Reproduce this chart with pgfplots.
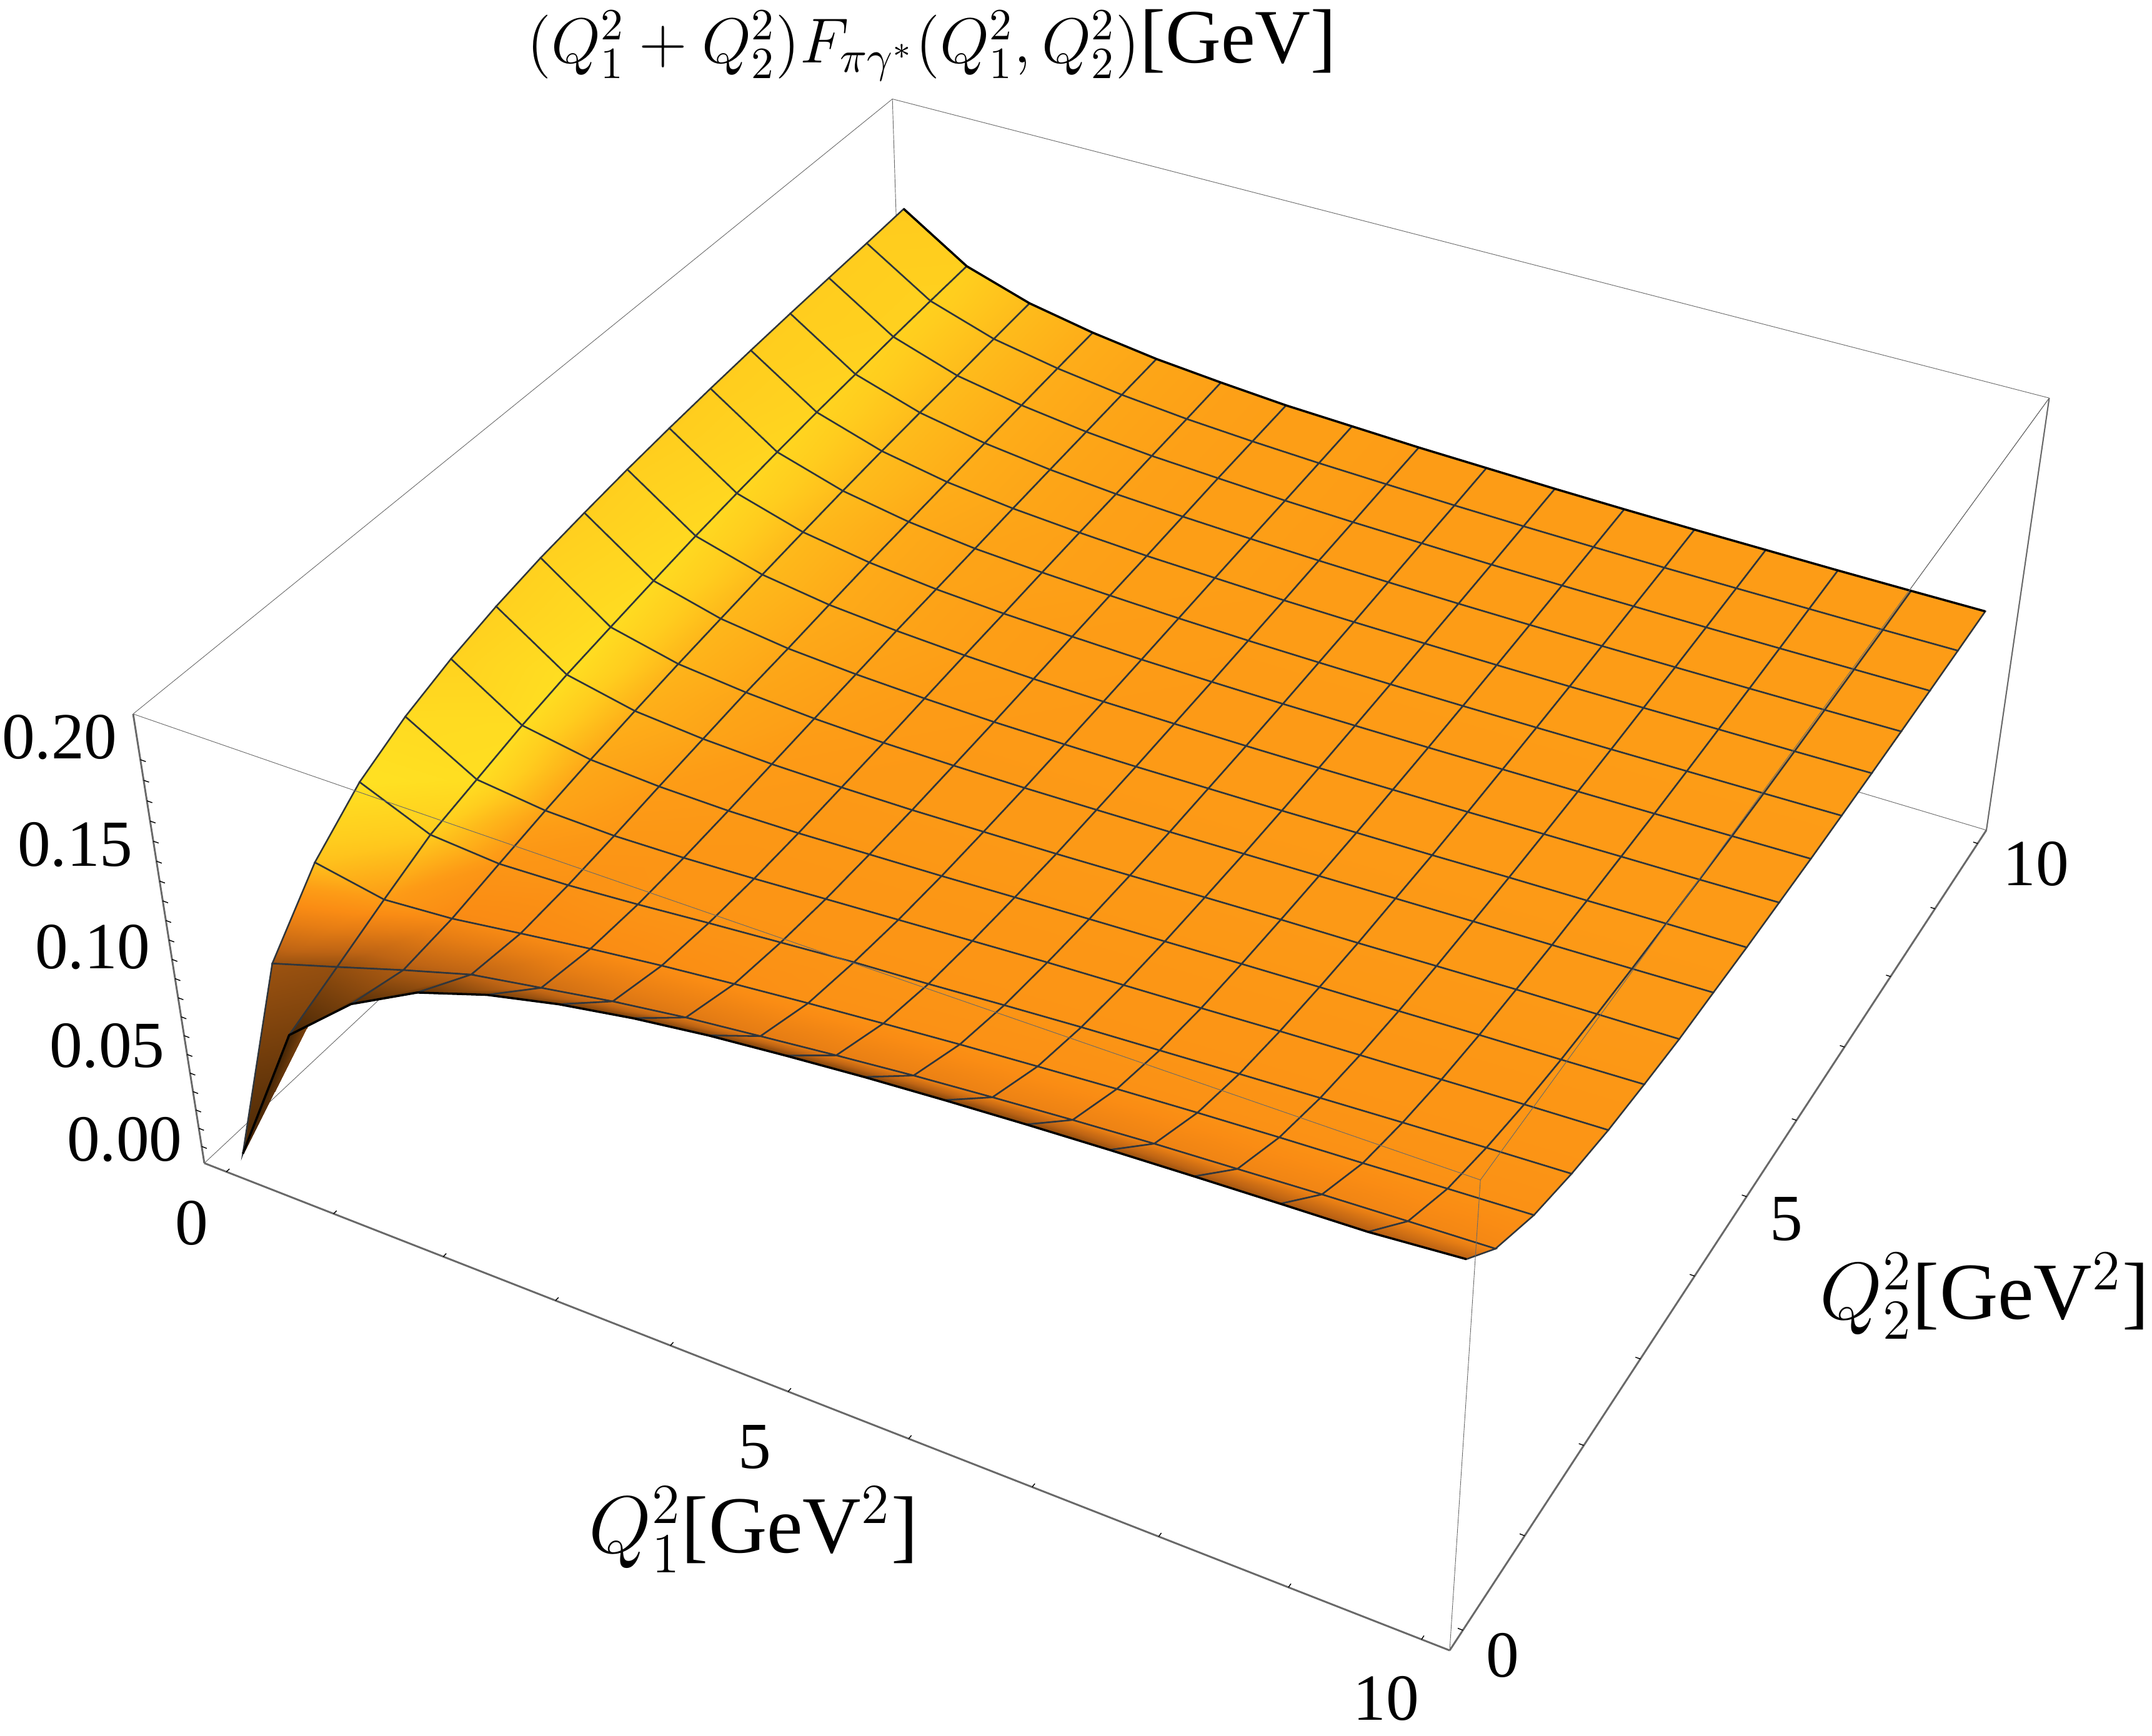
\RequirePackage{fix-cm}
\documentclass[border=0pt]{standalone}
\usepackage{fontspec}
\setmainfont{Liberation Serif}
\usepackage{pgfplots}
\usepackage{pgfplotstable}
\pgfplotsset{compat=1.18}
\newcommand\Xv{(0.02+0.096*\thisrow{x})}
\newcommand\Yv{(0.02+0.096*\thisrow{y})}
\newcommand\Zv{(0.04+4.325*\thisrow{z})}
\newcommand\Wv{(1-0.1175*\Xv+0.2104*\Yv-0.073*\Zv)}
\newcommand\Ue{((1720.4*\Xv+1426.9*\Yv-129.5*\Zv+327)/\Wv)}
\newcommand\Ve{((469.6*\Xv-879.2*\Yv-802.4*\Zv+1862)/\Wv)}
\newcommand\edge[7]{\addplot[#1,forget plot] table[row sep=\\,x expr=\Ue,y expr=\Ve]{x y z\\ #2 #3 #4\\ #5 #6 #7\\};}
\pgfplotstableread{
x y z t
0 10 .1712 .84
.625 10 .1490 .86
1.25 10 .1380 .78
1.875 10 .1314 .72
2.5 10 .1266 .69
3.125 10 .1235 .67
3.75 10 .1209 .66
4.375 10 .1195 .66
5 10 .1181 .65
5.625 10 .1172 .65
6.25 10 .1163 .65
6.875 10 .1157 .65
7.5 10 .1153 .65
8.125 10 .1151 .65
8.75 10 .1149 .65
9.375 10 .1149 .65
10 10 .1150 .65
0 9.375 .1696 .85
.625 9.375 .1475 .87
1.25 9.375 .1363 .78
1.875 9.375 .1299 .72
2.5 9.375 .1253 .69
3.125 9.375 .1221 .67
3.75 9.375 .1200 .66
4.375 9.375 .1184 .66
5 9.375 .1173 .65
5.625 9.375 .1163 .65
6.25 9.375 .1156 .65
6.875 9.375 .1151 .65
7.5 9.375 .1148 .65
8.125 9.375 .1147 .65
8.75 9.375 .1147 .65
9.375 9.375 .1147 .65
10 9.375 .1149 .65
0 8.75 .1682 .85
.625 8.75 .1458 .87
1.25 8.75 .1344 .78
1.875 8.75 .1282 .72
2.5 8.75 .1238 .69
3.125 8.75 .1209 .67
3.75 8.75 .1191 .66
4.375 8.75 .1174 .66
5 8.75 .1163 .65
5.625 8.75 .1156 .65
6.25 8.75 .1149 .65
6.875 8.75 .1146 .65
7.5 8.75 .1145 .65
8.125 8.75 .1144 .65
8.75 8.75 .1145 .65
9.375 8.75 .1147 .65
10 8.75 .1149 .65
0 8.125 .1667 .85
.625 8.125 .1437 .88
1.25 8.125 .1328 .78
1.875 8.125 .1264 .72
2.5 8.125 .1223 .69
3.125 8.125 .1195 .67
3.75 8.125 .1178 .66
4.375 8.125 .1165 .66
5 8.125 .1155 .65
5.625 8.125 .1148 .65
6.25 8.125 .1143 .65
6.875 8.125 .1141 .65
7.5 8.125 .1141 .65
8.125 8.125 .1142 .65
8.75 8.125 .1144 .65
9.375 8.125 .1147 .65
10 8.125 .1151 .65
0 7.5 .165 .85
.625 7.5 .1417 .89
1.25 7.5 .1309 .78
1.875 7.5 .1245 .72
2.5 7.5 .1207 .69
3.125 7.5 .1183 .67
3.75 7.5 .1165 .66
4.375 7.5 .1155 .66
5 7.5 .1145 .65
5.625 7.5 .1140 .65
6.25 7.5 .1138 .65
6.875 7.5 .1137 .65
7.5 7.5 .1138 .65
8.125 7.5 .1141 .65
8.75 7.5 .1145 .65
9.375 7.5 .1148 .65
10 7.5 .1153 .65
0 6.875 .163 .85
.625 6.875 .1392 .90
1.25 6.875 .1287 .78
1.875 6.875 .1226 .71
2.5 6.875 .1189 .68
3.125 6.875 .1169 .67
3.75 6.875 .1155 .66
4.375 6.875 .1144 .65
5 6.875 .1137 .65
5.625 6.875 .1134 .65
6.25 6.875 .1133 .65
6.875 6.875 .1134 .65
7.5 6.875 .1137 .65
8.125 6.875 .1141 .65
8.75 6.875 .1146 .65
9.375 6.875 .1151 .65
10 6.875 .1157 .65
0 6.25 .1607 .85
.625 6.25 .1364 .91
1.25 6.25 .1262 .77
1.875 6.25 .1207 .71
2.5 6.25 .1173 .68
3.125 6.25 .1153 .66
3.75 6.25 .1142 .65
4.375 6.25 .1133 .65
5 6.25 .1129 .64
5.625 6.25 .1128 .64
6.25 6.25 .1130 .64
6.875 6.25 .1133 .64
7.5 6.25 .1138 .64
8.125 6.25 .1143 .64
8.75 6.25 .1149 .64
9.375 6.25 .1156 .64
10 6.25 .1163 .64
0 5.625 .158 .86
.625 5.625 .1333 .92
1.25 5.625 .1235 .77
1.875 5.625 .1184 .71
2.5 5.625 .1157 .68
3.125 5.625 .1139 .66
3.75 5.625 .1128 .65
4.375 5.625 .1123 .64
5 5.625 .1123 .64
5.625 5.625 .1124 .64
6.25 5.625 .1128 .64
6.875 5.625 .1134 .64
7.5 5.625 .1140 .64
8.125 5.625 .1148 .64
8.75 5.625 .1156 .64
9.375 5.625 .1163 .64
10 5.625 .1172 .64
0 5 .1547 .86
.625 5 .1296 .93
1.25 5 .1205 .76
1.875 5 .1159 .70
2.5 5 .1136 .67
3.125 5 .1123 .65
3.75 5 .1115 .64
4.375 5 .1115 .64
5 5 .1117 .64
5.625 5 .1123 .64
6.25 5 .1129 .64
6.875 5 .1137 .64
7.5 5 .1145 .64
8.125 5 .1155 .64
8.75 5 .1163 .64
9.375 5 .1173 .64
10 5 .1181 .64
0 4.375 .151 .87
.625 4.375 .1256 .94
1.25 4.375 .1174 .75
1.875 4.375 .1138 .69
2.5 4.375 .1116 .66
3.125 4.375 .1106 .64
3.75 4.375 .1105 .63
4.375 4.375 .1108 .63
5 4.375 .1115 .63
5.625 4.375 .1123 .63
6.25 4.375 .1133 .63
6.875 4.375 .1144 .63
7.5 4.375 .1155 .63
8.125 4.375 .1165 .63
8.75 4.375 .1174 .63
9.375 4.375 .1184 .63
10 4.375 .1195 .63
0 3.75 .146 .87
.625 3.75 .1215 .95
1.25 3.75 .1139 .73
1.875 3.75 .1109 .68
2.5 3.75 .1095 .64
3.125 3.75 .1093 .63
3.75 3.75 .1096 .63
4.375 3.75 .1105 .63
5 3.75 .1115 .63
5.625 3.75 .1128 .63
6.25 3.75 .1142 .63
6.875 3.75 .1155 .63
7.5 3.75 .1165 .63
8.125 3.75 .1178 .63
8.75 3.75 .1191 .63
9.375 3.75 .1200 .63
10 3.75 .1209 .63
0 3.125 .1395 .88
.625 3.125 .1163 .94
1.25 3.125 .1101 .70
1.875 3.125 .1080 .65
2.5 3.125 .1074 .63
3.125 3.125 .1080 .62
3.75 3.125 .1093 .62
4.375 3.125 .1106 .62
5 3.125 .1123 .62
5.625 3.125 .1139 .62
6.25 3.125 .1153 .62
6.875 3.125 .1169 .62
7.5 3.125 .1183 .62
8.125 3.125 .1195 .62
8.75 3.125 .1209 .62
9.375 3.125 .1221 .62
10 3.125 .1235 .62
0 2.5 .1309 .93
.625 2.5 .1099 .95
1.25 2.5 .1057 .68
1.875 2.5 .1048 .62
2.5 2.5 .1057 .61
3.125 2.5 .1074 .61
3.75 2.5 .1095 .61
4.375 2.5 .1116 .61
5 2.5 .1136 .61
5.625 2.5 .1157 .61
6.25 2.5 .1173 .61
6.875 2.5 .1189 .61
7.5 2.5 .1207 .61
8.125 2.5 .1223 .61
8.75 2.5 .1238 .61
9.375 2.5 .1253 .61
10 2.5 .1266 .61
0 1.875 .1188 .97
.625 1.875 .1035 .84
1.25 1.875 .1007 .61
1.875 1.875 .1021 .59
2.5 1.875 .1048 .60
3.125 1.875 .1080 .60
3.75 1.875 .1109 .60
4.375 1.875 .1138 .60
5 1.875 .1159 .60
5.625 1.875 .1184 .60
6.25 1.875 .1207 .60
6.875 1.875 .1226 .60
7.5 1.875 .1245 .60
8.125 1.875 .1264 .60
8.75 1.875 .1282 .60
9.375 1.875 .1299 .60
10 1.875 .1314 .60
0 1.25 .0996 .80
.625 1.25 .0927 .64
1.25 1.25 .0955 .54
1.875 1.25 .1007 .54
2.5 1.25 .1057 .55
3.125 1.25 .1101 .56
3.75 1.25 .1139 .57
4.375 1.25 .1174 .58
5 1.25 .1205 .58
5.625 1.25 .1235 .58
6.25 1.25 .1262 .58
6.875 1.25 .1287 .58
7.5 1.25 .1309 .58
8.125 1.25 .1328 .58
8.75 1.25 .1344 .58
9.375 1.25 .1363 .58
10 1.25 .1380 .58
0 .625 .0700 .22
.625 .625 .0812 .20
1.25 .625 .0927 .26
1.875 .625 .1035 .30
2.5 .625 .1099 .36
3.125 .625 .1163 .40
3.75 .625 .1215 .42
4.375 .625 .1256 .44
5 .625 .1296 .46
5.625 .625 .1333 .47
6.25 .625 .1364 .48
6.875 .625 .1392 .48
7.5 .625 .1417 .49
8.125 .625 .1437 .50
8.75 .625 .1458 .50
9.375 .625 .1475 .51
10 .625 .1490 .52
0 0 -.008 .02
.625 0 .0700 .02
1.25 0 .0996 .05
1.875 0 .1188 .08
2.5 0 .1309 .10
3.125 0 .1395 .11
3.75 0 .146 .12
4.375 0 .151 .13
5 0 .1547 .14
5.625 0 .158 .15
6.25 0 .1607 .16
6.875 0 .163 .18
7.5 0 .165 .20
8.125 0 .1667 .22
8.75 0 .1682 .24
9.375 0 .1696 .26
10 .15 .165 .28
}\surfdata
\definecolor{boxgray}{RGB}{105,105,105}
\definecolor{meshc}{RGB}{48,54,60}
\begin{document}
\begin{tikzpicture}
\begin{axis}[
  scale only axis, width=172.2mm, height=138.95mm,
  xmin=0, xmax=3444, ymin=0, ymax=2779, y dir=reverse,
  hide axis, clip=false,
  colormap={mma}{rgb255(0pt)=(62,34,5) rgb255(30pt)=(190,100,20) rgb255(45pt)=(230,125,20) rgb255(55pt)=(250,140,20) rgb255(65pt)=(253,156,22) rgb255(85pt)=(255,205,30) rgb255(100pt)=(255,230,35)},
  point meta min=0, point meta max=1,
]
% back edges of the box, behind the surface
\edge{boxgray,line width=0.13pt}{-.2083}{-.2083}{.222}{-.2083}{10.2083}{.222}
\edge{boxgray,line width=0.13pt}{-.2083}{10.2083}{.222}{10.2083}{10.2083}{.222}
\edge{boxgray,line width=0.13pt}{-.2083}{10.2083}{-.00925}{-.2083}{10.2083}{.222}
\edge{boxgray,line width=0.13pt}{-.2083}{-.2083}{-.00925}{-.2083}{10.2083}{-.00925}
\edge{boxgray,line width=0.13pt}{-.2083}{10.2083}{-.00925}{10.2083}{10.2083}{-.00925}
\edge{boxgray,line width=0.3pt}{10.2083}{10.2083}{-.00925}{10.2083}{10.2083}{.222}
\edge{boxgray,line width=0.13pt}{10.2083}{-.2083}{.222}{10.2083}{10.2083}{.222}
\edge{boxgray,line width=0.42pt}{-.2083}{-.2083}{-.00925}{-.2083}{-.2083}{.222}
\edge{boxgray,line width=0.42pt}{-.2083}{-.2083}{-.00925}{10.2083}{-.2083}{-.00925}
\edge{boxgray,line width=0.42pt}{10.2083}{-.2083}{-.00925}{10.2083}{10.2083}{-.00925}
% surface
\addplot[surf, shader=faceted interp, faceted color=meshc, line width=0.36pt, mesh/rows=17, mesh/cols=17, point meta=explicit, forget plot]
  table[x expr=\Ue, y expr=\Ve, meta=t] {\surfdata};
% outline of the surface
\addplot[black,line width=0.5pt,forget plot] table[x expr=\Ue,y expr=\Ve,restrict expr to domain={\thisrow{y}}{9.9:11}] {\surfdata};
\addplot[black,line width=0.5pt,forget plot] table[x expr=\Ue,y expr=\Ve,restrict expr to domain={\thisrow{y}}{-1:0.2}] {\surfdata};
\addplot[black,line width=0.5pt,forget plot] table[x expr=\Ue,y expr=\Ve,restrict expr to domain={\thisrow{x}}{-1:0.1}] {\surfdata};
\addplot[black,line width=0.5pt,forget plot] table[x expr=\Ue,y expr=\Ve,restrict expr to domain={\thisrow{x}}{9.9:11}] {\surfdata};
% front top edges, over the surface
\edge{boxgray,line width=0.13pt}{-.2083}{-.2083}{.222}{10.2083}{-.2083}{.222}
\edge{boxgray,line width=0.13pt}{10.2083}{-.2083}{.222}{10.2083}{10.2083}{.222}
\edge{boxgray,line width=0.13pt}{10.2083}{-.2083}{-.00925}{10.2083}{-.2083}{.222}
% ticks
\pgfplotsinvokeforeach{0,1,...,10}{\edge{black,line width=0.2pt}{#1}{-.2083}{-.00925}{#1}{-.17}{-.00925}}
\pgfplotsinvokeforeach{0,1,...,10}{\edge{black,line width=0.2pt}{10.2083}{#1}{-.00925}{10.17}{#1}{-.00925}}
\pgfplotsinvokeforeach{0,.01,.02,.03,.04,.05,.06,.07,.08,.09,.1,.11,.12,.13,.14,.15,.16,.17,.18,.19,.2}{\edge{black,line width=0.2pt}{-.2083}{-.2083}{#1}{-.16}{-.2083}{#1}}
% tick labels
\def\tl{\fontsize{15}{18}\selectfont}
\node[anchor=east,inner sep=0pt] at (axis cs:189,1180) {\tl 0.20};
\node[anchor=east,inner sep=0pt] at (axis cs:214,1352) {\tl 0.15};
\node[anchor=east,inner sep=0pt] at (axis cs:242,1516) {\tl 0.10};
\node[anchor=east,inner sep=0pt] at (axis cs:265,1674) {\tl 0.05};
\node[anchor=east,inner sep=0pt] at (axis cs:293,1824) {\tl 0.00};
\node[inner sep=0pt] at (axis cs:307,1958) {\tl 0};
\node[inner sep=0pt] at (axis cs:1208,2317) {\tl 5};
\node[inner sep=0pt] at (axis cs:2218,2719) {\tl 10};
\node[inner sep=0pt] at (axis cs:2405,2650) {\tl 0};
\node[inner sep=0pt] at (axis cs:2859,1952) {\tl 5};
\node[inner sep=0pt] at (axis cs:3258,1383) {\tl 10};
% labels
\node[inner sep=0pt] at (axis cs:1206,2449) {\fontsize{18.4}{21}\selectfont $Q_1^2$[GeV$^2$]};
\node[inner sep=0pt] at (axis cs:3176,2075) {\fontsize{18.4}{21}\selectfont $Q_2^2$[GeV$^2$]};
\node[inner sep=0pt] at (axis cs:1491,72) {\fontsize{14.5}{18}\selectfont $(Q_1^2+Q_2^2)F_{\pi\gamma^*}(Q_1^2,Q_2^2)$\fontsize{17.5}{18}\selectfont[GeV]};
\end{axis}
\pgfresetboundingbox
\useasboundingbox (0,0) rectangle (172.2mm,138.95mm);
\end{tikzpicture}
\end{document}
